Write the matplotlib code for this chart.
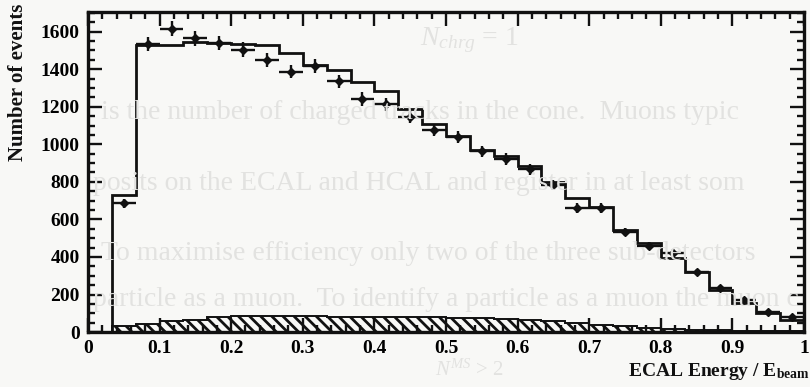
import numpy as np
import matplotlib.pyplot as plt

plt.rcParams['font.family'] = ['Liberation Serif', 'DejaVu Serif']
plt.rcParams['mathtext.fontset'] = 'custom'
plt.rcParams['mathtext.rm'] = 'Liberation Serif:bold'
plt.rcParams['mathtext.it'] = 'Liberation Serif:italic'
plt.rcParams['hatch.linewidth'] = 2.0

# 30 bins of ECAL energy / E_beam between 0 and 1
n_bins = 30
mc = [0, 730, 1530, 1530, 1545, 1540, 1535, 1530, 1486, 1424,
      1394, 1330, 1282, 1190, 1109, 1045, 971, 939, 882, 802,
      715, 667, 544, 475, 395, 320, 224, 155, 101, 64]
data = [np.nan, 685, 1535, 1615, 1565, 1540, 1505, 1450, 1388, 1419,
        1335, 1241, 1214, 1145, 1077, 1038, 962, 921, 868, 784,
        660, 661, 533, 459, 421, 320, 235, 171, 107, 80]
background = [0, 30, 45, 57, 65, 78, 84, 88, 86, 84,
              82, 80, 80, 78, 78, 76, 74, 70, 66, 58,
              48, 40, 32, 22, 15, 12, 10, 8, 6, 5]

xticks = [0, 0.1, 0.2, 0.3, 0.4, 0.5, 0.6, 0.7, 0.8, 0.9, 1]
xtick_labels = ['0', '0.1', '0.2', '0.3', '0.4', '0.5', '0.6', '0.7', '0.8', '0.9', '1']
yticks = [0, 200, 400, 600, 800, 1000, 1200, 1400, 1600]

edges = np.linspace(0, 1, n_bins + 1)
centres = 0.5 * (edges[1:] + edges[:-1])
data = np.array(data)

bg_col = '#f8f8f6'
fig = plt.figure(figsize=(8.1, 3.87), dpi=100, facecolor=bg_col)

# faint bleed-through text from the reverse side of the scanned page
ghost = dict(color='#e2e2e0', fontsize=20, zorder=0)
fig.text(0.58, 0.895, r'$N_{chrg}$ = 1', ha='center', va='center', **ghost)
fig.text(0.125, 0.71, 'is the number of charged tracks in the cone.  Muons typic',
         va='center', **ghost)
fig.text(0.115, 0.525, 'posits on the ECAL and HCAL and register in at least som',
         va='center', **ghost)
fig.text(0.125, 0.345, 'To maximise efficiency only two of the three sub-detectors',
         va='center', **ghost)
fig.text(0.115, 0.225, 'particle as a muon.  To identify a particle as a muon the muon c',
         va='center', **ghost)
fig.text(0.58, 0.015, r'$N^{MS}$ > 2', ha='center', va='bottom',
         color='#e2e2e0', fontsize=15, zorder=0)

ax = fig.add_axes([0.1086, 0.142, 0.8840, 0.827])
ax.set_facecolor('none')

ax.stairs(background, edges, fill=True, facecolor='none', edgecolor='#111111',
          hatch='\\\\\\', linewidth=0)
ax.stairs(background, edges, color='#111111', linewidth=1.4)
ax.stairs(mc, edges, color='#111111', linewidth=2.0)
ax.errorbar(centres, data, xerr=0.5 / n_bins, yerr=np.sqrt(data),
            fmt='D', color='#111111', markersize=4, elinewidth=1.7,
            capsize=0)

ax.set_xlim(0, 1)
ax.set_ylim(0, 1705)
ax.set_xticks(xticks)
ax.set_xticklabels(xtick_labels)
ax.set_yticks(yticks)
ax.set_xticks(np.arange(0, 1.0001, 0.02), minor=True)
ax.set_yticks(np.arange(0, 1701, 50), minor=True)
ax.tick_params(which='both', direction='in', top=True, right=True,
               width=1.7, color='#111111')
ax.tick_params(which='major', length=10, labelsize=14, pad=6)
ax.tick_params(which='minor', length=5)
for lab in ax.get_xticklabels() + ax.get_yticklabels():
    lab.set_fontweight('bold')
for sp in ax.spines.values():
    sp.set_linewidth(2.4)
    sp.set_color('#111111')

fig.text(0.010, 0.99, 'Number of events', rotation=90, ha='left', va='top',
         fontsize=15, fontweight='bold', color='#111111')
fig.text(0.775, 0.012, r'ECAL Energy / E$_{\mathrm{beam}}$', ha='left',
         va='bottom', fontsize=14, fontweight='bold', color='#111111')

fig.savefig('out.png', dpi=100, facecolor=bg_col)
